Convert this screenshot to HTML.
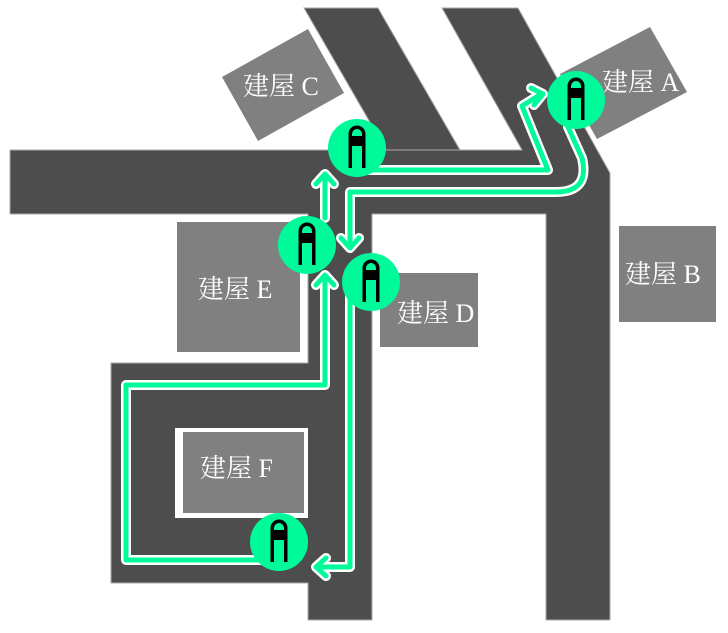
<!DOCTYPE html>
<html><head><meta charset="utf-8"><style>
html,body{margin:0;padding:0;background:#fff;}
svg{display:block;}
text{font-family:"Liberation Serif","Noto Serif CJK SC",serif;font-size:26px;fill:#fff;}
</style></head><body>
<svg width="728" height="633" viewBox="0 0 728 633" xmlns="http://www.w3.org/2000/svg">
<defs>
<g id="bus">
<circle r="29" fill="#00fa9a"/>
<path d="M-8.5,20 V-14 A8.5,8.5 0 0 1 8.5,-14 V20 H5 V-2 H-5 V20 Z" fill="#000"/>
<path d="M-5,-12 V-14 A5,5 0 0 1 5,-14 V-12 Z" fill="#00fa9a"/>
</g>
</defs>
<!-- buildings -->
<polygon points="222,77 308,29 344,93 258,141" fill="#808080"/>
<polygon points="560,74 650,27 687,92 597,139" fill="#808080"/>
<rect x="619" y="226" width="97" height="96" fill="#808080"/>
<!-- roads -->
<g fill="#4d4d4d" stroke="#aaa" stroke-width="1">
<polygon points="304,8 378,8 460,150 386,150"/>
<polygon points="442,8 518,8 610,173 610,620 546,620 546,214 372,214 372,363 372,620 308,620 308,583 111,583 111,363 308,363 308,214 10,214 10,150 522,150"/>
</g>
<rect x="175" y="428" width="133" height="90" fill="#fff"/>
<rect x="183" y="432" width="121" height="81" fill="#808080"/>
<rect x="177" y="222" width="123" height="130" fill="#808080"/>
<rect x="380" y="273" width="98" height="74" fill="#808080"/>
<!-- labels -->
<text x="243" y="95">建屋 C</text>
<text x="602" y="91">建屋 A</text>
<text x="625" y="283">建屋 B</text>
<text x="397" y="322">建屋 D</text>
<text x="198" y="298">建屋 E</text>
<text x="200" y="477">建屋 F</text>
<!-- routes: white outline -->
<g fill="none" stroke="#fff" stroke-width="10" stroke-linejoin="round" stroke-linecap="round">
<polyline points="357,170 548,170 522,106 538,96"/>
<polyline points="531,88 543,94 534,105"/>
<path d="M568,127 L582,158 Q590,192 556,192 L350,192 L350,246"/>
<polyline points="341,238 350,248 359,238"/>
<line x1="325" y1="176" x2="325" y2="218"/>
<polyline points="316,184 325,174 334,184"/>
<polyline points="325,277 325,385 126,385 126,560 280,560"/>
<polyline points="316,285 325,275 334,285"/>
<polyline points="350,290 350,567 317,567"/>
<polyline points="326,558 316,567 326,576"/>
</g>
<g fill="none" stroke="#00fa9a" stroke-width="5" stroke-linejoin="round" stroke-linecap="round">
<polyline points="357,170 548,170 522,106 538,96"/>
<polyline points="531,88 543,94 534,105"/>
<path d="M568,127 L582,158 Q590,192 556,192 L350,192 L350,246"/>
<polyline points="341,238 350,248 359,238"/>
<line x1="325" y1="176" x2="325" y2="218"/>
<polyline points="316,184 325,174 334,184"/>
<polyline points="325,277 325,385 126,385 126,560 280,560"/>
<polyline points="316,285 325,275 334,285"/>
<polyline points="350,290 350,567 317,567"/>
<polyline points="326,558 316,567 326,576"/>
</g>
<!-- bus stops -->
<use href="#bus" x="357" y="148"/>
<use href="#bus" x="576" y="100"/>
<use href="#bus" x="307" y="245"/>
<use href="#bus" x="371" y="282"/>
<use href="#bus" x="279" y="542"/>
</svg>
</body></html>
